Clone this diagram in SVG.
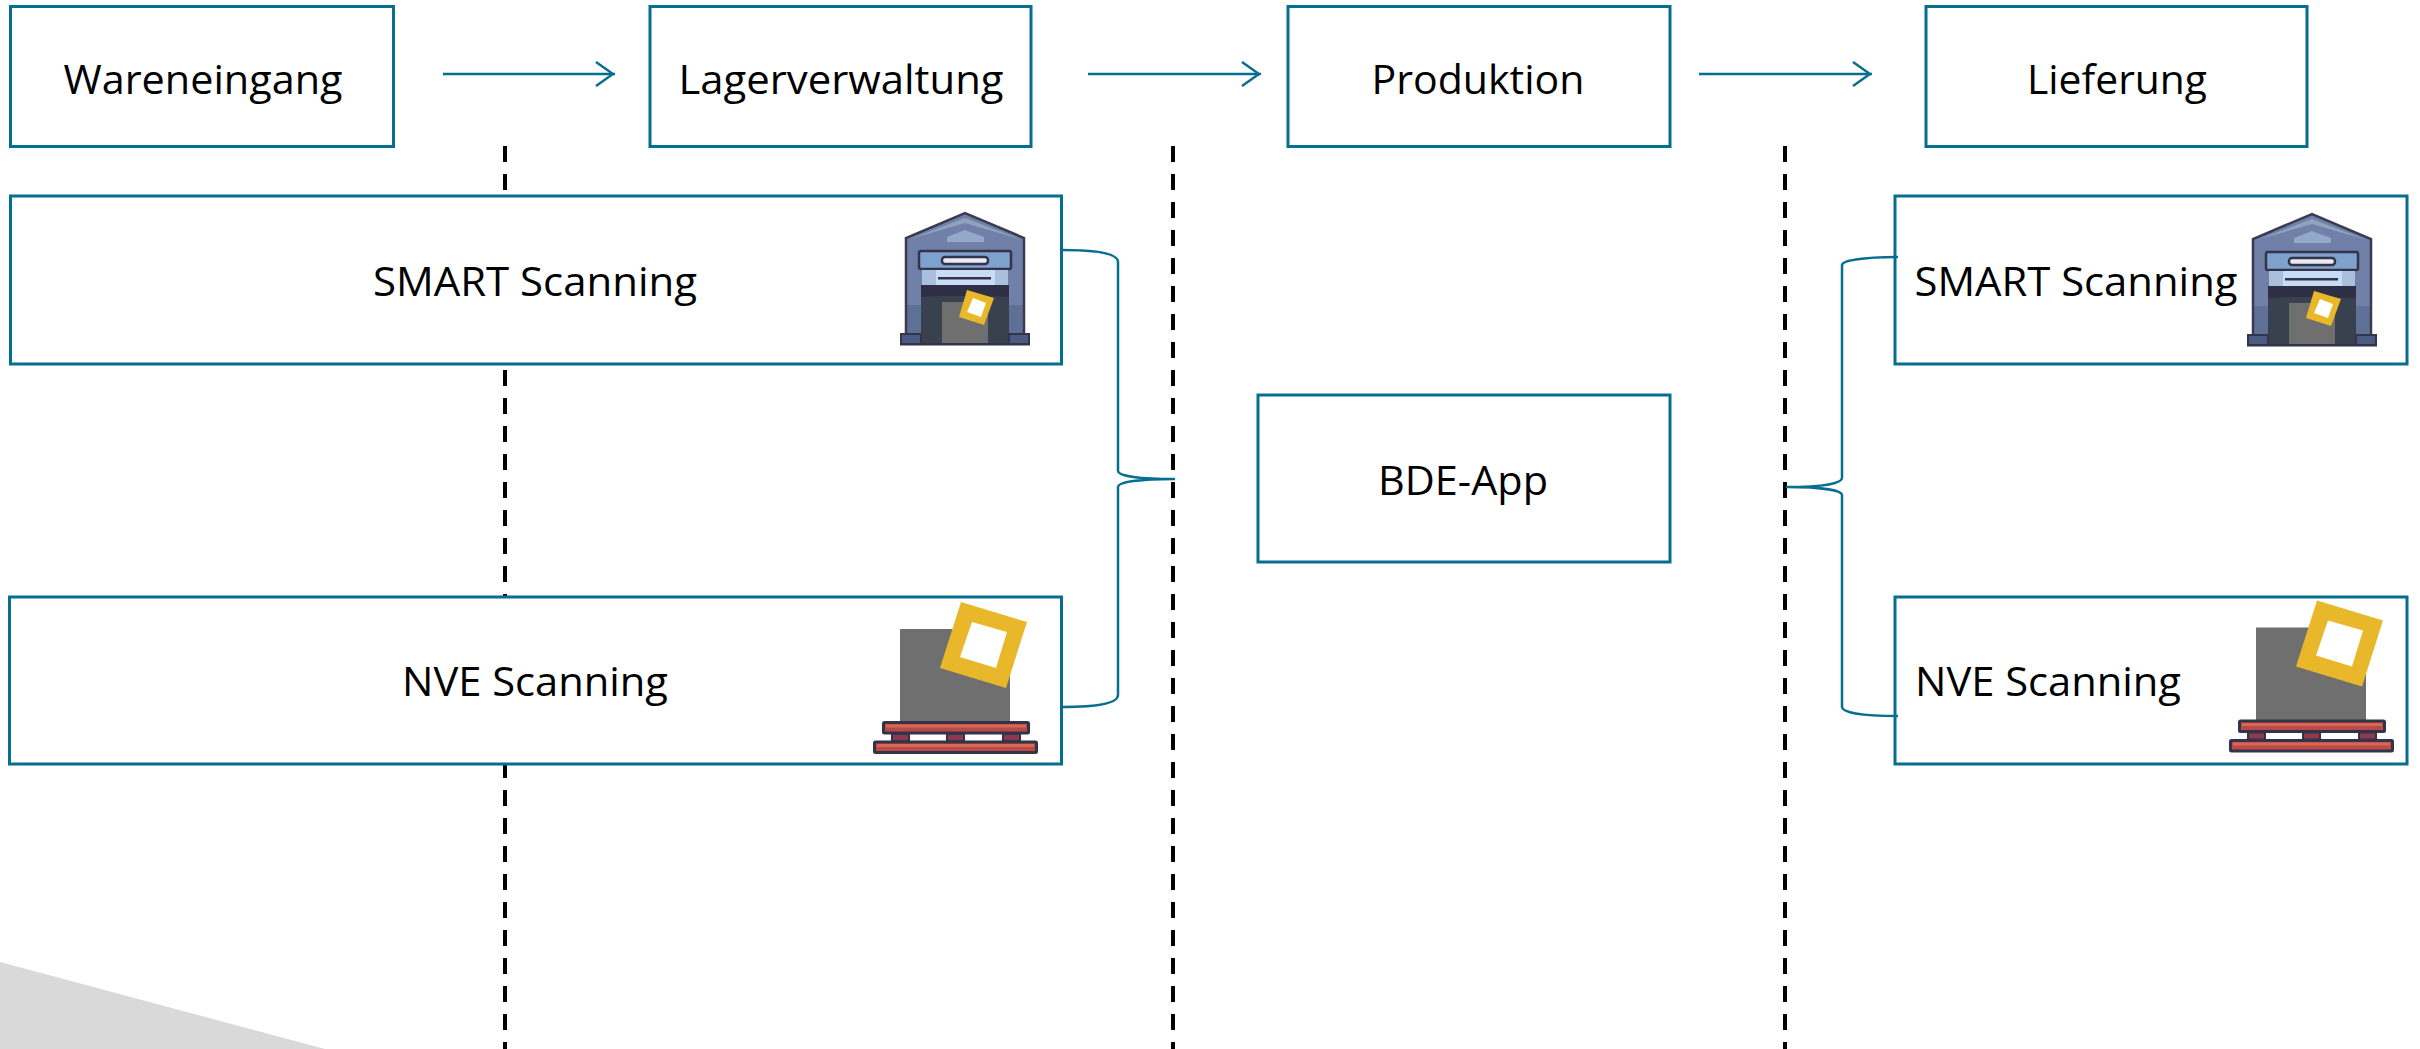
<svg xmlns="http://www.w3.org/2000/svg" width="2420" height="1049" viewBox="0 0 2420 1049">
<style>
.box{fill:#fff;stroke:#066f90;stroke-width:3}
.conn{fill:none;stroke:#066f90;stroke-width:2.5}
.dash{fill:none;stroke:#000;stroke-width:4;stroke-dasharray:16 12}
text{font-family:"Open Sans","Liberation Sans",sans-serif;font-size:40px;fill:#000;text-anchor:middle}
</style>
<defs>
<marker id="arrow" viewBox="0 0 20 26" markerUnits="userSpaceOnUse" markerWidth="20" markerHeight="26" refX="20" refY="13" orient="auto"><path d="M1 1L18 13L1 25" fill="none" stroke="#066f90" stroke-width="2.5"/></marker>
<symbol id="warehouse" overflow="visible">
<path d="M46 48L105 23L164 48V150H46Z" fill="#7180a8"/>
<path d="M46 115H164V150H46Z" fill="#5f7096"/>
<path d="M50 49L105 28L160 49L105 33Z" fill="#8fa3bd"/>
<path d="M87 47L105 40L124 47V52H87Z" fill="#93a9c9"/>
<path d="M46 144V48L105 23L164 48V144" fill="none" stroke="#3a3a50" stroke-width="2.5"/>
<rect x="59" y="61" width="92" height="18" rx="2" fill="#7fa1cd" stroke="#33334a" stroke-width="2.5"/>
<rect x="82" y="67" width="46" height="7" rx="3" fill="#e8ecf2" stroke="#33334a" stroke-width="2.5"/>
<rect x="62" y="80" width="86" height="15" fill="#a9bfdc"/>
<rect x="76" y="80" width="59" height="15" fill="#c9dcf5"/>
<rect x="78" y="87" width="53" height="2.5" fill="#33334a"/>
<rect x="61" y="95" width="88" height="60" fill="#2e2e44"/>
<path d="M61 107L82 106H128L149 107V155H61Z" fill="#3a414e"/>
<rect x="82" y="112" width="46" height="42" fill="#6f6f6f"/>
<rect x="41" y="144" width="20" height="10" fill="#4a5a80" stroke="#33334a" stroke-width="2"/>
<rect x="149" y="144" width="20" height="10" fill="#4a5a80" stroke="#33334a" stroke-width="2"/>
<rect x="40" y="153" width="130" height="2.5" fill="#33334a"/>
<path d="M107 100L134 108L124 135L99 127Z" fill="#e9b82a"/>
<path d="M113 108L126 113L121 127L107 122Z" fill="#fff"/>
</symbol>
<symbol id="pallet" overflow="visible">
<rect x="60" y="49" width="110" height="93" fill="#6f6f6f"/>
<path d="M121 22L187 42L166 108L100 88Z" fill="#e9b82a"/>
<path d="M132 42L167 52L156 88L120 77Z" fill="#fff"/>
<rect x="43.500" y="142.500" width="145" height="10.500" rx="1" fill="#b94a4c" stroke="#33334a" stroke-width="3"/>
<rect x="46" y="144.500" width="140" height="3" fill="#d9684f"/>
<rect x="52" y="154" width="17" height="7" fill="#8e3a4c" stroke="#33334a" stroke-width="2"/>
<rect x="107" y="154" width="17" height="7" fill="#8e3a4c" stroke="#33334a" stroke-width="2"/>
<rect x="163" y="154" width="17" height="7" fill="#8e3a4c" stroke="#33334a" stroke-width="2"/>
<rect x="34.500" y="162" width="162" height="10.500" rx="1" fill="#b94a4c" stroke="#33334a" stroke-width="3"/>
<rect x="37" y="164" width="157" height="3" fill="#d9684f"/>
</symbol>
</defs>
<rect width="2420" height="1049" fill="#fff"/>
<path id="corner" d="M0 962L325 1049H0Z" fill="#d9d9d9"/>
<g id="dividers">
<path class="dash" d="M505 146V1049"/>
<path class="dash" d="M1173 146V1049"/>
<path class="dash" d="M1785 146V1049"/>
</g>
<g id="n1"><rect class="box" x="10.500" y="6.500" width="383" height="140"/><text x="203" y="94" textLength="279" lengthAdjust="spacingAndGlyphs">Wareneingang</text></g>
<g id="n2"><rect class="box" x="650" y="6.500" width="381" height="140"/><text x="841" y="94" textLength="325" lengthAdjust="spacingAndGlyphs">Lagerverwaltung</text></g>
<g id="n3"><rect class="box" x="1288" y="6.500" width="382" height="140"/><text x="1478" y="94" textLength="213" lengthAdjust="spacingAndGlyphs">Produktion</text></g>
<g id="n4"><rect class="box" x="1926" y="6.500" width="381" height="140"/><text x="2117" y="94" textLength="180" lengthAdjust="spacingAndGlyphs">Lieferung</text></g>
<g id="n5"><rect class="box" x="10.500" y="196" width="1051" height="168"/><text x="535" y="296" textLength="324" lengthAdjust="spacingAndGlyphs">SMART Scanning</text><use href="#warehouse" x="860" y="190"/></g>
<g id="n6"><rect class="box" x="9.500" y="597" width="1052" height="167"/><text x="535" y="696" textLength="266" lengthAdjust="spacingAndGlyphs">NVE Scanning</text><use href="#pallet" x="840" y="580"/></g>
<g id="n7"><rect class="box" x="1258" y="395" width="412" height="167"/><text x="1463" y="495" textLength="170" lengthAdjust="spacingAndGlyphs">BDE-App</text></g>
<g id="n8"><rect class="box" x="1895" y="196" width="512" height="168"/><text x="2076" y="296" textLength="323" lengthAdjust="spacingAndGlyphs">SMART Scanning</text><use href="#warehouse" x="2207" y="191"/></g>
<g id="n9"><rect class="box" x="1895" y="597" width="512" height="167"/><text x="2048" y="696" textLength="266" lengthAdjust="spacingAndGlyphs">NVE Scanning</text><use href="#pallet" x="2196" y="578.500"/></g>
<g id="connectors">
<path class="conn" marker-end="url(#arrow)" d="M443 74H615"/>
<path class="conn" marker-end="url(#arrow)" d="M1088 74H1261"/>
<path class="conn" marker-end="url(#arrow)" d="M1699 74H1872"/>
<path class="conn" d="M1062 250C1100 250 1118 254 1118 262V471C1118 476 1140 479 1175 479C1140 479 1118 482 1118 487V695C1118 703 1100 707 1062 707"/>
<path class="conn" d="M1898 257C1860 257 1842 261 1842 265V478C1842 483 1825 487 1786 487C1825 487 1842 491 1842 495V707C1842 712 1860 716 1898 716"/>
</g>
</svg>
